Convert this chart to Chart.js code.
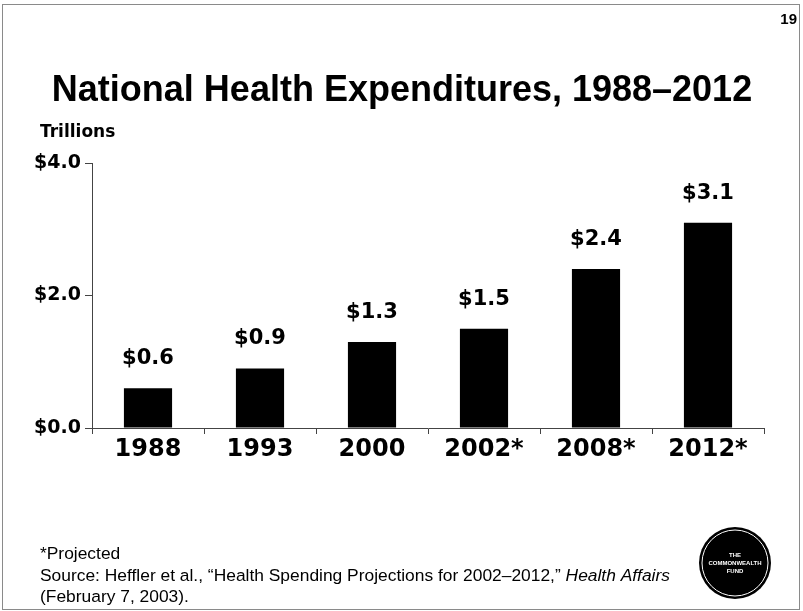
<!DOCTYPE html>
<html>
<head>
<meta charset="utf-8">
<script src="https://cdn.jsdelivr.net/npm/chart.js@4/dist/chart.umd.min.js"></script>
<style>
  html, body { margin: 0; padding: 0; background: #fff; }
  #wrap { width: 803px; height: 611px; position: relative; }
</style>
</head>
<body>
<div id="wrap"><canvas id="c" width="803" height="611"></canvas></div>
<script>
// National health expenditures, trillions of dollars
const years = ['1988', '1993', '2000', '2002*', '2008*', '2012*'];
const spending = [0.6, 0.9, 1.3, 1.5, 2.4, 3.1];
const yTicks = [0, 2, 4];

const BOLD = '"DejaVu Sans", sans-serif';
const PLAIN = '"Liberation Sans", Arial, sans-serif';

const fmt = v => '$' + Number(v).toFixed(1);

// Slide decorations: title, page number, units, footnotes, logo, frame
const slide = {
  id: 'slide',
  afterDraw(chart) {
    const ctx = chart.ctx;
    ctx.save();
    // frame
    ctx.strokeStyle = '#8a8a8a';
    ctx.lineWidth = 1;
    ctx.strokeRect(2.5, 4.5, 797, 605);

    ctx.fillStyle = '#000';
    ctx.textAlign = 'center';
    ctx.textBaseline = 'alphabetic';
    ctx.font = 'bold 36px ' + PLAIN;
    ctx.fillText('National Health Expenditures, 1988\u20132012', 402, 101);

    ctx.textAlign = 'right';
    ctx.font = 'bold 15px ' + PLAIN;
    ctx.fillText('19', 797, 24);

    ctx.textAlign = 'left';
    ctx.font = 'bold 17px ' + BOLD;
    ctx.fillText('Trillions', 40, 137);

    ctx.font = '17.4px ' + PLAIN;
    ctx.fillText('*Projected', 40, 559);
    const src = 'Source: Heffler et al., \u201cHealth Spending Projections for 2002\u20132012,\u201d ';
    ctx.fillText(src, 40, 581);
    const w = ctx.measureText(src).width;
    ctx.font = 'italic 17.4px ' + PLAIN;
    ctx.fillText('Health Affairs', 40 + w, 581);
    ctx.font = '17.4px ' + PLAIN;
    ctx.fillText('(February 7, 2003).', 40, 602);

    // logo
    const cx = 735, cy = 563;
    ctx.beginPath();
    ctx.arc(cx, cy, 36, 0, Math.PI * 2);
    ctx.fillStyle = '#000';
    ctx.fill();
    ctx.beginPath();
    ctx.arc(cx, cy, 33, 0, Math.PI * 2);
    ctx.strokeStyle = '#fff';
    ctx.lineWidth = 1;
    ctx.stroke();
    ctx.fillStyle = '#fff';
    ctx.textAlign = 'center';
    ctx.font = 'bold 6px ' + PLAIN;
    ctx.fillText('THE', cx, cy - 6);
    ctx.fillText('COMMONWEALTH', cx, cy + 2);
    ctx.fillText('FUND', cx, cy + 10);
    ctx.restore();
  }
};

// Value labels above each bar
const valueLabels = {
  id: 'valueLabels',
  afterDatasetsDraw(chart) {
    const ctx = chart.ctx;
    const meta = chart.getDatasetMeta(0);
    ctx.save();
    ctx.fillStyle = '#000';
    ctx.font = 'bold 21px ' + BOLD;
    ctx.textAlign = 'center';
    ctx.textBaseline = 'alphabetic';
    meta.data.forEach((bar, i) => {
      ctx.fillText(fmt(chart.data.datasets[0].data[i]), bar.x, bar.y - 24);
    });
    ctx.restore();
  }
};

new Chart(document.getElementById('c'), {
  type: 'bar',
  data: {
    labels: years,
    datasets: [{
      data: spending,
      backgroundColor: '#000',
      borderWidth: 0,
      categoryPercentage: 1,
      barPercentage: 0.43
    }]
  },
  options: {
    responsive: false,
    devicePixelRatio: 1,
    animation: false,
    events: [],
    layout: { padding: { top: 163, right: 39, bottom: 0, left: 0 } },
    plugins: { legend: { display: false }, tooltip: { enabled: false }, title: { display: false } },
    scales: {
      x: {
        afterFit(s) { s.height = 183; },
        border: { display: true, color: '#444', width: 1 },
        grid: { display: true, drawOnChartArea: false, drawTicks: true, tickLength: 6, color: '#444', offset: true },
        ticks: { color: '#000', font: { family: BOLD, size: 24, weight: 'bold' }, padding: 1, maxRotation: 0 }
      },
      y: {
        min: 0, max: 4,
        afterFit(s) { s.width = 92; },
        afterBuildTicks(s) { s.ticks = yTicks.map(v => ({ value: v })); },
        border: { display: true, color: '#444', width: 1 },
        grid: { display: true, drawOnChartArea: false, drawTicks: true, tickLength: 7, color: '#444' },
        ticks: { color: '#000', font: { family: BOLD, size: 19, weight: 'bold' }, padding: 4, callback: v => fmt(v) }
      }
    }
  },
  plugins: [slide, valueLabels]
});
</script>
</body>
</html>
